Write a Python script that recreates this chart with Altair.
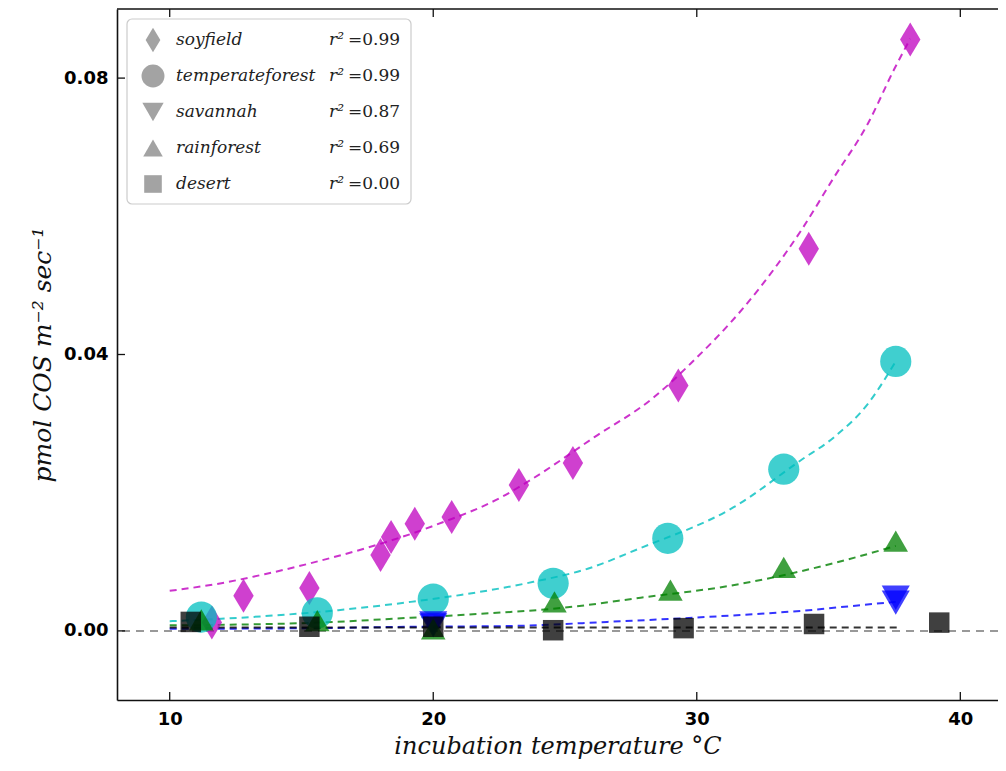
import altair as alt
import pandas as pd

# ---------------- data ----------------
sites = ["soyfield", "temperateforest", "savannah", "rainforest", "desert"]
r2_values = ["0.99", "0.99", "0.87", "0.69", "0.00"]
site_colors = ["#bf00bf", "#00bfbf", "#0000ff", "#008000", "#000000"]

soy_t = [11.6, 12.8, 15.3, 18.0, 18.4, 19.3, 20.7, 23.25, 25.3, 29.3, 34.25, 38.1]
soy_v = [0.0012, 0.0051, 0.0062, 0.0110, 0.0136, 0.0155, 0.0165, 0.0211, 0.0243, 0.0355, 0.0553, 0.0856]

tf_t = [11.2, 15.6, 20.0, 24.55, 28.9, 33.3, 37.55]
tf_v = [0.0020, 0.0026, 0.0046, 0.0069, 0.0134, 0.0234, 0.0390]

sav_t = [20.0, 20.0, 37.55, 37.55]
sav_v = [0.0011, 0.0008, 0.0048, 0.0041]

rain_t = [11.2, 15.6, 20.0, 24.6, 29.0, 33.3, 37.55]
rain_v = [0.0016, 0.0015, 0.0003, 0.0042, 0.0059, 0.0092, 0.0130]

des_t = [10.8, 15.3, 20.0, 24.55, 29.5, 34.45, 39.2]
des_v = [0.0013, 0.0006, 0.0006, 0.0001, 0.0004, 0.0010, 0.0012]

# fitted curves
soy_fit_t = [10, 11.8, 13.6, 15.35, 20, 22.56, 23.8, 26.1, 28.37, 29.77, 31.78, 33.95, 35.2, 36.49, 37.48, 38.1]
soy_fit_v = [0.0058, 0.0068, 0.0082, 0.0098, 0.0152, 0.0193, 0.0221, 0.0280, 0.0338, 0.0387, 0.0468, 0.0579, 0.0656, 0.0734, 0.0812, 0.0857]

tf_fit_t = [10, 13.07, 16.4, 19.15, 21.04, 23.8, 25.86, 27.87, 31.4, 33.95, 35.2, 36.5, 37.55]
tf_fit_v = [0.0014, 0.0020, 0.0030, 0.0042, 0.0052, 0.0071, 0.0090, 0.0120, 0.0179, 0.0247, 0.0280, 0.0329, 0.0390]

sav_fit_t = [10, 15.6, 19.15, 22.8, 26.6, 31.2, 33.95, 36.7, 37.55]
sav_fit_v = [0.0003, 0.0004, 0.0006, 0.0007, 0.0013, 0.0022, 0.0029, 0.0039, 0.0042]

rain_fit_t = [10, 15.6, 19.15, 21.04, 25.3, 27.87, 31.2, 35.2, 37.55]
rain_fit_v = [0.0008, 0.0012, 0.0019, 0.0023, 0.0035, 0.0048, 0.0065, 0.0098, 0.0123]

des_fit_t = [10, 37.7]
des_fit_v = [0.0005, 0.0005]

x_ticks = [10, 20, 30, 40]
y_ticks = [0.0, 0.04, 0.08]

# ---------------- tables ----------------
pts = pd.concat([
    pd.DataFrame({"site": s, "t": t, "v": v})
    for s, t, v in zip(sites,
                       [soy_t, tf_t, sav_t, rain_t, des_t],
                       [soy_v, tf_v, sav_v, rain_v, des_v])
], ignore_index=True)

fits = pd.concat([
    pd.DataFrame({"site": s, "t": t, "v": v})
    for s, t, v in zip(sites,
                       [soy_fit_t, tf_fit_t, sav_fit_t, rain_fit_t, des_fit_t],
                       [soy_fit_v, tf_fit_v, sav_fit_v, rain_fit_v, des_fit_v])
], ignore_index=True)

legend_df = pd.DataFrame({"site": sites, "rr": ["r²"] * len(sites),
                          "val": ["=" + r for r in r2_values]})

# ---------------- layout ----------------
W, H = 881, 691
xs = alt.Scale(domain=[8, 41.43], nice=False, zero=False)
ys = alt.Scale(domain=[-0.01, 0.09], nice=False, zero=False)

tick_font = "DejaVu Sans"
title_font = "DejaVu Serif"

xaxis = alt.Axis(values=x_ticks, format="d", title="incubation temperature °C",
                 grid=False, ticks=False, tickSize=0, labelPadding=10,
                 labelFont=tick_font, labelFontWeight="bold", labelFontSize=18,
                 labelColor="#000", domainColor="#111", domainWidth=1.6,
                 titleFont=title_font, titleFontStyle="italic", titleFontWeight="normal",
                 titleFontSize=24, titleColor="#111", titlePadding=6)
yaxis = alt.Axis(values=y_ticks, format=".2f", title="pmol COS m⁻² sec⁻¹",
                 grid=False, ticks=False, tickSize=0, labelPadding=9,
                 labelFont=tick_font, labelFontWeight="bold", labelFontSize=18,
                 labelColor="#000", domainColor="#111", domainWidth=1.6,
                 titleFont=title_font, titleFontStyle="italic", titleFontWeight="normal",
                 titleFontSize=25, titleColor="#111", titlePadding=8)

X = alt.X("t:Q", scale=xs, axis=xaxis)
Y = alt.Y("v:Q", scale=ys, axis=yaxis)

shape_scale = alt.Scale(domain=sites,
                        range=["M0,-1L0.6,0L0,1L-0.6,0Z", "circle", "triangle-down",
                               "triangle-up", "square"])
color_scale = alt.Scale(domain=sites, range=site_colors)

zero = alt.Chart(pd.DataFrame({"v": [0.0]})).mark_rule(
    color="#999999", strokeWidth=2, strokeDash=[8, 6]).encode(y=Y)

lines = alt.Chart(fits).mark_line(strokeWidth=2, strokeDash=[7, 5], opacity=0.8,
                                  interpolate="monotone").encode(
    x=X, y=Y,
    color=alt.Color("site:N", scale=color_scale, legend=None),
    detail="site:N")

points = alt.Chart(pts).mark_point(filled=True, opacity=0.75, strokeWidth=0).encode(
    x=X, y=Y,
    color=alt.Color("site:N", scale=color_scale, legend=None),
    shape=alt.Shape("site:N", scale=shape_scale, legend=None),
    size=alt.Size("site:O", sort=sites,
                  scale=alt.Scale(domain=sites, range=[1156, 420, 600, 600, 560]),
                  legend=None))

xt = pd.DataFrame({"t": x_ticks})
yt = pd.DataFrame({"v": y_ticks})
tick_b = alt.Chart(xt).mark_rule(color="#111", strokeWidth=1.3).encode(
    x=X, y=alt.value(H), y2=alt.value(H - 8))
tick_t = alt.Chart(xt).mark_rule(color="#111", strokeWidth=1.3).encode(
    x=X, y=alt.value(0), y2=alt.value(8))
tick_l = alt.Chart(yt).mark_rule(color="#111", strokeWidth=1.3).encode(
    y=Y, x=alt.value(0), x2=alt.value(8))
top_border = alt.Chart(pd.DataFrame({"a": [0]})).mark_rule(
    color="#111", strokeWidth=1.6).encode(
    x=alt.value(0), x2=alt.value(W), y=alt.value(0))

main = alt.layer(zero, lines, points, tick_b, tick_t, tick_l, top_border)

# ---------------- legend ----------------
ly = alt.Y("site:N", sort=sites,
           scale=alt.Scale(type="point", domain=sites, range=[31, 175], padding=0),
           axis=None)

box = alt.Chart(pd.DataFrame({"a": [0]})).mark_rect(
    fill="white", stroke="#cccccc", strokeWidth=1.2, cornerRadius=5).encode(
    x=alt.value(10), x2=alt.value(294), y=alt.value(10), y2=alt.value(195))

lsym = alt.Chart(legend_df).mark_point(filled=True, fill="#a3a3a3", opacity=1,
                                       strokeWidth=0).encode(
    x=alt.value(36), y=ly,
    shape=alt.Shape("site:N", scale=shape_scale, legend=None),
    size=alt.Size("site:O", sort=sites,
                  scale=alt.Scale(domain=sites, range=[600, 310, 420, 420, 380]),
                  legend=None))

ltext = alt.Chart(legend_df).mark_text(
    align="left", baseline="middle", font=title_font, fontStyle="italic",
    fontSize=17, color="#222").encode(x=alt.value(59), y=ly, text="site:N")

lr = alt.Chart(legend_df).mark_text(
    align="right", baseline="middle", font=title_font, fontStyle="italic",
    fontSize=17, color="#222").encode(x=alt.value(227), y=ly, text="rr:N")

lval = alt.Chart(legend_df).mark_text(
    align="left", baseline="middle", font=title_font,
    fontSize=17, color="#222").encode(x=alt.value(231), y=ly, text="val:N")

legend = alt.layer(box, lsym, ltext, lr, lval)

chart = alt.layer(main, legend).resolve_scale(
    y="independent", size="independent"
).properties(
    width=W, height=H,
    autosize=alt.AutoSizeParams(type="none"),
    padding={"left": 109, "top": 1, "right": 0, "bottom": 63},
    background="white",
).configure_view(stroke=None)

chart.save("out.html", embed_options={"renderer": "svg", "actions": False})
